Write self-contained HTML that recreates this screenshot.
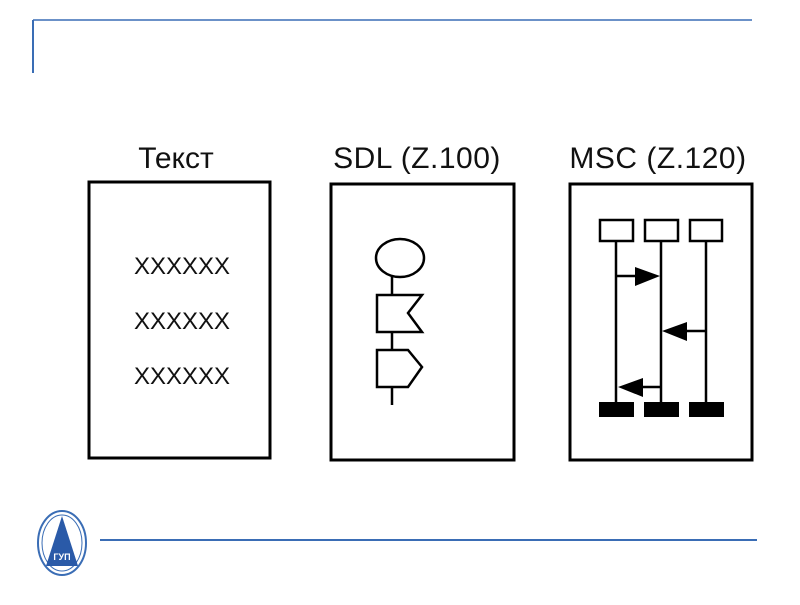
<!DOCTYPE html>
<html><head><meta charset="utf-8"><style>
body{margin:0;background:#fff;width:800px;height:600px;overflow:hidden}
</style></head><body>
<svg width="800" height="600" xmlns="http://www.w3.org/2000/svg" font-family="Liberation Sans, sans-serif">
<line x1="33" y1="20" x2="752" y2="20" stroke="#3a6db5" stroke-width="1.5"/>
<line x1="33" y1="20" x2="33" y2="73" stroke="#3a6db5" stroke-width="2"/>
<line x1="100" y1="540" x2="757" y2="540" stroke="#3a6db5" stroke-width="2"/>
<ellipse cx="62" cy="543" rx="24" ry="32" fill="#fff" stroke="#3a6db5" stroke-width="2"/>
<ellipse cx="62" cy="543" rx="20" ry="28" fill="none" stroke="#3a6db5" stroke-width="1"/>
<polygon points="62,516 46,566 78,566" fill="#2a5aa8"/>
<text x="62" y="560" font-size="9" fill="#fff" text-anchor="middle" font-weight="bold">ГУП</text>
<g fill="#111" font-size="30" text-anchor="middle">
<text x="176" y="168">Текст</text>
<text x="417" y="168" letter-spacing="0.5">SDL (Z.100)</text>
<text x="658" y="168" letter-spacing="0.5">MSC (Z.120)</text>
</g>
<g fill="none" stroke="#000" stroke-width="3">
<rect x="89" y="182" width="181" height="276"/>
<rect x="331" y="184" width="183" height="276"/>
<rect x="570" y="184" width="182" height="276"/>
</g>
<g fill="#111" font-size="24" text-anchor="middle">
<text x="182" y="274">XXXXXX</text>
<text x="182" y="329">XXXXXX</text>
<text x="182" y="384">XXXXXX</text>
</g>
<g fill="none" stroke="#000" stroke-width="2.5">
<ellipse cx="400" cy="258" rx="24" ry="19"/>
<line x1="392" y1="277" x2="392" y2="295"/>
<polygon points="377,295 422,295 408,313 422,332 377,332"/>
<line x1="392" y1="332" x2="392" y2="350"/>
<polygon points="377,350 408,350 422,367 408,387 377,387"/>
<line x1="392" y1="387" x2="392" y2="405"/>
<rect x="600" y="220" width="33" height="21"/>
<rect x="645" y="220" width="33" height="21"/>
<rect x="690" y="220" width="32" height="21"/>
<line x1="616" y1="241" x2="616" y2="403"/>
<line x1="661" y1="241" x2="661" y2="403"/>
<line x1="706" y1="241" x2="706" y2="403"/>
<line x1="616" y1="276" x2="640" y2="276"/>
<line x1="685" y1="331" x2="706" y2="331"/>
<line x1="640" y1="387" x2="661" y2="387"/>
</g>
<g fill="#000">
<polygon points="635,267 660,276 635,286"/>
<polygon points="687,322 662,331 687,341"/>
<polygon points="643,378 618,387 643,397"/>
<rect x="599" y="402" width="35" height="15"/>
<rect x="644" y="402" width="35" height="15"/>
<rect x="689" y="402" width="35" height="15"/>
</g>
</svg>
</body></html>
